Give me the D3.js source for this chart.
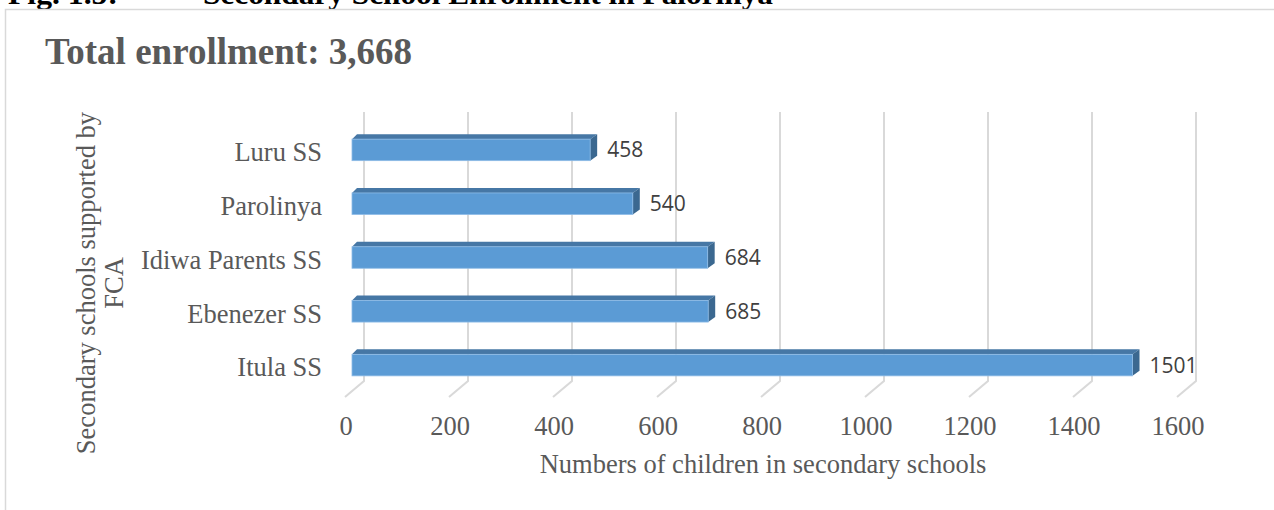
<!DOCTYPE html>
<html>
<head>
<meta charset="utf-8">
<script src="https://cdn.jsdelivr.net/npm/d3@7"></script>
<style>
  body { margin: 0; background: #fff; }
</style>
</head>
<body>
<div id="chart"></div>
<script>
// data
const schools = ["Luru SS", "Parolinya ", "Idiwa Parents SS", "Ebenezer SS", "Itula SS"];
const enrolled = [458, 540, 684, 685, 1501];
const xTicks = [0, 200, 400, 600, 800, 1000, 1200, 1400, 1600];

const data = schools.map((s, i) => ({school: s, value: enrolled[i]}));

const W = 1274, H = 510;
const depth = {x: 7, y: 5};        // bar top/side depth
const floor = {x: -19, y: 16};     // floor diagonal
const frontShift = -12;            // bar front plane vs grid plane
const serif = "'Liberation Serif', 'Times New Roman', serif";

const svg = d3.select("#chart")
    .append("svg")
    .attr("width", W)
    .attr("height", H);

// page header (cut off at top, as in the source page)
svg.append("text")
    .attr("x", 8).attr("y", 4)
    .attr("textLength", 110).attr("lengthAdjust", "spacingAndGlyphs")
    .style("font", `bold 30px ${serif}`)
    .attr("fill", "#000")
    .text("Fig. 1.5:");
svg.append("text")
    .attr("x", 203).attr("y", 4)
    .attr("textLength", 570).attr("lengthAdjust", "spacingAndGlyphs")
    .style("font", `bold 30px ${serif}`)
    .attr("fill", "#000")
    .text("Secondary School Enrollment in Palorinya");

// chart frame
svg.append("path")
    .attr("d", `M5.5,${H} V9.5 H${W}`)
    .attr("fill", "none")
    .attr("stroke", "#d9d9d9")
    .attr("stroke-width", 1.5);

// title
svg.append("text")
    .attr("x", 45).attr("y", 64)
    .attr("textLength", 367).attr("lengthAdjust", "spacingAndGlyphs")
    .style("font", `bold 38px ${serif}`)
    .attr("fill", "#595959")
    .text("Total enrollment: 3,668");

const xScale = d3.scaleLinear()
    .domain([0, 1600])
    .range([364, 1196]);

const yScale = d3.scaleBand()
    .domain(schools)
    .range([123, 392])
    .paddingInner(0.6)
    .paddingOuter(0.3);

const gridTop = 112, gridBottom = 381;

// grid lines with floor edge
svg.append("g")
    .selectAll("path")
    .data(xTicks)
    .join("path")
    .attr("d", d => `M${xScale(d)},${gridTop} V${gridBottom} l${floor.x},${floor.y}`)
    .attr("fill", "none")
    .attr("stroke", "#d9d9d9")
    .attr("stroke-width", 2);

// x tick labels
svg.append("g")
    .selectAll("text")
    .data(xTicks)
    .join("text")
    .attr("x", d => xScale(d) - 18)
    .attr("y", 435)
    .attr("text-anchor", "middle")
    .style("font", `26.5px ${serif}`)
    .attr("fill", "#595959")
    .text(d => d);

// category labels
svg.append("g")
    .selectAll("text")
    .data(schools)
    .join("text")
    .attr("x", 322)
    .attr("y", d => yScale(d) + yScale.bandwidth() / 2 + 2)
    .attr("dy", "0.35em")
    .attr("text-anchor", "end")
    .style("font", `26.5px ${serif}`)
    .attr("fill", "#595959")
    .text(d => d);

// bars
const bars = svg.append("g")
    .selectAll("g")
    .data(data)
    .join("g");

const bx0 = xScale(0) + frontShift;
const bh = yScale.bandwidth();

bars.append("path") // top face
    .attr("d", d => {
        const y = yScale(d.school), x1 = xScale(d.value) + frontShift;
        return `M${bx0},${y} L${bx0 + depth.x - 2},${y - depth.y} L${x1 + depth.x},${y - depth.y} L${x1},${y} Z`;
    })
    .attr("fill", "#4677a5");

bars.append("path") // side face
    .attr("d", d => {
        const y = yScale(d.school), x1 = xScale(d.value) + frontShift;
        return `M${x1},${y} L${x1 + depth.x},${y - depth.y} L${x1 + depth.x},${y + bh - depth.y} L${x1},${y + bh} Z`;
    })
    .attr("fill", "#3b6890");

bars.append("rect") // front face
    .attr("x", bx0)
    .attr("y", d => yScale(d.school))
    .attr("width", d => xScale(d.value) - xScale(0))
    .attr("height", bh)
    .attr("fill", "#5b9bd5")
    .attr("stroke", "#8dbbe6")
    .attr("stroke-width", 0.8);

// value labels
bars.append("text")
    .attr("x", d => xScale(d.value) + frontShift + 17)
    .attr("y", d => yScale(d.school) + bh / 2)
    .attr("dy", "0.36em")
    .style("font", "21px 'Open Sans', 'Liberation Sans', sans-serif")
    .attr("fill", "#404040")
    .text(d => d.value);

// axis titles
svg.append("text")
    .attr("x", 763).attr("y", 473)
    .attr("text-anchor", "middle")
    .style("font", `26.5px ${serif}`)
    .attr("fill", "#595959")
    .text("Numbers of children in secondary schools");

const yTitle = svg.append("text")
    .attr("transform", "translate(101,283) rotate(-90)")
    .attr("text-anchor", "middle")
    .style("font", `26.5px ${serif}`)
    .attr("fill", "#595959");
yTitle.append("tspan").attr("x", 0).attr("y", -6).text("Secondary schools supported by");
yTitle.append("tspan").attr("x", 0).attr("y", 22).text("FCA");
</script>
</body>
</html>
